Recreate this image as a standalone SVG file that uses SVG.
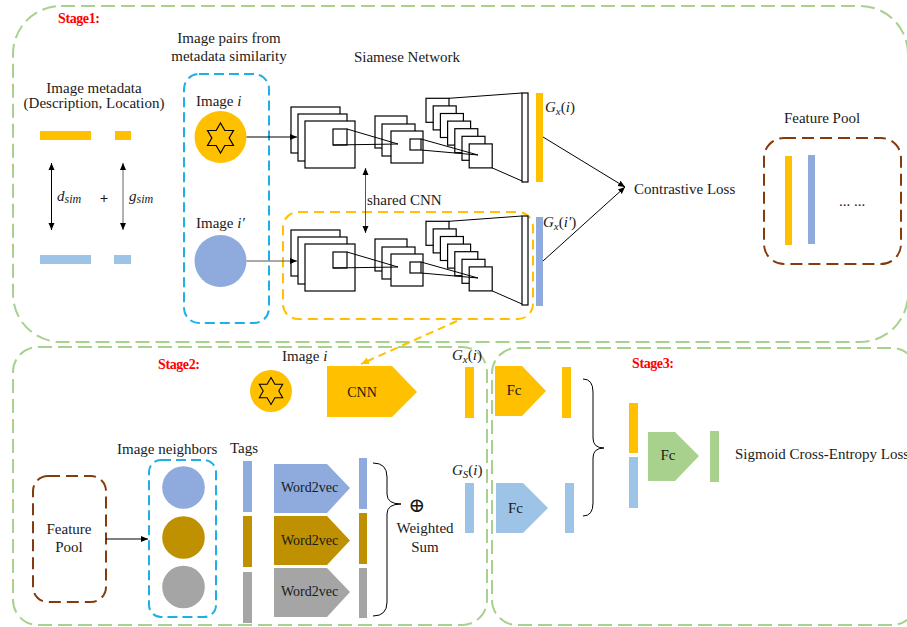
<svg xmlns="http://www.w3.org/2000/svg" xmlns:xlink="http://www.w3.org/1999/xlink" width="907" height="627" viewBox="0 0 907 627">
<style>
.t{font-family:"Liberation Serif",Tinos,"DejaVu Serif","Noto Serif",serif;font-size:15px;fill:#1a1a1a}
.c{text-anchor:middle}
.stage{font-family:"Liberation Serif",Tinos,"DejaVu Serif",serif;font-size:14px;font-weight:bold;fill:#ff0000;letter-spacing:-0.4px}
.m{font-family:"Liberation Serif",Tinos,"DejaVu Serif",serif;font-size:15px;fill:#1a1a1a}
.it{font-style:italic}
.ln{stroke:#000;stroke-width:1;fill:none}
.bx{fill:#fff;stroke:#000;stroke-width:1.2}
.green{fill:none;stroke:#a9d18e;stroke-width:2;stroke-dasharray:14 6}
.blue{fill:none;stroke:#1cb0e6;stroke-width:2;stroke-dasharray:10 5}
.orange{fill:none;stroke:#ffc000;stroke-width:2;stroke-dasharray:10 6}
.brown{fill:none;stroke:#843c0c;stroke-width:2;stroke-dasharray:12 6}
.star{fill:none;stroke:#000;stroke-width:1.2}
.sm{font-size:14px}
</style>
<defs>
<marker id="ah" markerWidth="8" markerHeight="8" refX="7" refY="4" orient="auto-start-reverse" markerUnits="userSpaceOnUse"><path d="M0,1 L7,4 L0,7 z" fill="#000"/></marker>
<marker id="aho" markerWidth="9" markerHeight="9" refX="8" refY="4.5" orient="auto" markerUnits="userSpaceOnUse"><path d="M0,1 L8,4.5 L0,8 z" fill="#ffc000"/></marker>
<path id="star" d="M0,-15 L4.33,-7.5 L12.99,-7.5 L8.66,0 L12.99,7.5 L4.33,7.5 L0,15 L-4.33,7.5 L-12.99,7.5 L-8.66,0 L-12.99,-7.5 L-4.33,-7.5 Z"/>
<g id="cnnShape">
<rect class="bx" x="291" y="107" width="49" height="46"/>
<rect class="bx" x="298" y="114" width="49" height="47"/>
<rect class="bx" x="305" y="121" width="50" height="47"/>
<rect class="bx" x="333" y="129" width="14" height="16"/>
<rect class="bx" x="375" y="116" width="32" height="32"/>
<rect class="bx" x="382" y="124" width="33" height="32"/>
<rect class="bx" x="391" y="131" width="32" height="32"/>
<rect class="bx" x="410" y="139" width="11" height="11"/>
<path class="ln" d="M347,129 L398,144 M333,145 L398,144"/>
<rect class="bx" x="426" y="98.3" width="23" height="24"/>
<rect class="bx" x="433.2" y="105.9" width="23" height="24"/>
<rect class="bx" x="440.4" y="113.5" width="23" height="24"/>
<rect class="bx" x="447.6" y="121.1" width="23" height="24"/>
<rect class="bx" x="454.8" y="128.7" width="23" height="24"/>
<rect class="bx" x="462" y="136.3" width="23" height="24"/>
<rect class="bx" x="469.2" y="143.9" width="23" height="24"/>
<path class="ln" d="M421,139 L478,155 M421,150 L478,155"/>
<path class="ln" d="M449,98.3 L522,93 M492.2,167.9 L522,181"/>
<rect class="bx" x="522" y="93" width="6" height="89"/>
</g>
</defs>

<g id="stage-frames">
<rect id="stage1-frame" class="green" x="13" y="6" width="895" height="336" rx="48"/>
<rect id="stage2-frame" class="green" x="13" y="347" width="474" height="278" rx="25"/>
<rect id="stage3-frame" class="green" x="492" y="348" width="425" height="277" rx="25"/>
<text class="stage" x="58" y="23">Stage1:</text>
<text class="stage" x="158" y="369">Stage2:</text>
<text class="stage" x="632" y="368">Stage3:</text>
</g>

<g id="metadata">
<text class="t c" x="94" y="93">Image metadata</text>
<text class="t c" x="94" y="108">(Description, Location)</text>
<rect x="40" y="131" width="51" height="9" fill="#ffc000"/>
<rect x="115" y="131" width="16" height="9" fill="#ffc000"/>
<rect x="40" y="255" width="51" height="9" fill="#9dc3e6"/>
<rect x="114" y="255" width="17" height="9" fill="#9dc3e6"/>
<text class="m it" x="57" y="201" font-size="17">d<tspan font-size="12" dy="2">sim</tspan></text>
<text class="t c" x="104" y="203" font-weight="bold">+</text>
<text class="m it" x="129" y="201" font-size="17">g<tspan font-size="12" dy="2">sim</tspan></text>
</g>

<g id="image-pairs">
<text class="t c" x="229" y="43">Image pairs from</text>
<text class="t c" x="229" y="61">metadata similarity</text>
<rect class="blue" x="184" y="74" width="85" height="249" rx="15"/>
<text class="t" x="196" y="106">Image <tspan class="it">i</tspan></text>
<circle cx="220.5" cy="137" r="26" fill="#ffc000"/>
<use xlink:href="#star" class="star" transform="translate(220.5,138)"/>
<text class="t" x="196" y="228">Image <tspan class="it">i′</tspan></text>
<circle cx="220.5" cy="261" r="26" fill="#8faadc"/>
</g>

<g id="siamese">
<text class="t c" x="407" y="62">Siamese Network</text>
<g id="cnn-top"><use xlink:href="#cnnShape"/></g>
<rect class="orange" x="283" y="212" width="250" height="107" rx="15"/>
<g id="cnn-bottom"><use xlink:href="#cnnShape" transform="translate(0,123)"/></g>
<text class="t" x="367" y="205">shared CNN</text>
<rect x="536" y="93" width="7" height="89" fill="#ffc000"/>
<rect x="536" y="217" width="7" height="89" fill="#8faadc"/>
<text class="m" x="545" y="112"><tspan class="it">G</tspan><tspan class="it" font-size="11" dy="3">x</tspan><tspan dy="-3">(</tspan><tspan class="it">i</tspan>)</text>
<text class="m" x="543" y="227"><tspan class="it">G</tspan><tspan class="it" font-size="11" dy="3">x</tspan><tspan dy="-3">(</tspan><tspan class="it">i′</tspan>)</text>
</g>

<g id="contrastive-loss">
<text class="t" x="634" y="194">Contrastive Loss</text>
</g>

<g id="feature-pool-1">
<text class="t c" x="822" y="123">Feature Pool</text>
<rect class="brown" x="764" y="138" width="137" height="126" rx="20"/>
<rect x="785" y="156" width="7" height="89" fill="#ffc000"/>
<rect x="808" y="155" width="7" height="89" fill="#8faadc"/>
<text class="t c" x="852" y="206" font-size="11">... ...</text>
</g>

<g id="stage2-image">
<text class="t" x="282" y="361">Image <tspan class="it">i</tspan></text>
<circle cx="271" cy="391" r="21" fill="#ffc000"/>
<use xlink:href="#star" class="star" transform="translate(271,391) scale(0.9)"/>
</g>
<g id="cnn-block">
<polygon points="327,366 392,366 417,392 392,417 327,417" fill="#ffc000"/>
<text class="t c sm" x="362" y="397">CNN</text>
</g>
<g id="gx-bar">
<rect x="465" y="367" width="9" height="51" fill="#ffc000"/>
<text class="m" x="452" y="360"><tspan class="it">G</tspan><tspan class="it" font-size="11" dy="3">x</tspan><tspan dy="-3">(</tspan><tspan class="it">i</tspan>)</text>
</g>
<g id="gs-bar">
<rect x="465" y="483" width="9" height="50" fill="#9dc3e6"/>
<text class="m" x="452" y="475"><tspan class="it">G</tspan><tspan class="it" font-size="11" dy="3">S</tspan><tspan dy="-3">(</tspan><tspan class="it">i</tspan>)</text>
</g>

<g id="feature-pool-2">
<rect class="brown" x="33" y="476" width="73" height="126" rx="15"/>
<text class="t c" x="69" y="534">Feature</text>
<text class="t c" x="69" y="552">Pool</text>
</g>
<g id="image-neighbors">
<text class="t" x="117" y="454">Image neighbors</text>
<rect class="blue" x="149" y="460" width="67" height="157" rx="12"/>
<circle cx="183.5" cy="487.5" r="21.3" fill="#8faadc"/>
<circle cx="183.5" cy="537.5" r="21.3" fill="#bf9000"/>
<circle cx="183.5" cy="587" r="21.3" fill="#a5a5a5"/>
</g>
<g id="tags">
<text class="t" x="230" y="453">Tags</text>
<rect x="243" y="461" width="9" height="51" fill="#8faadc"/>
<rect x="243" y="516" width="9" height="51" fill="#bf9000"/>
<rect x="243" y="572" width="9" height="51" fill="#a5a5a5"/>
</g>
<g id="word2vec">
<polygon points="274,464 327,464 350,488 327,513 274,513" fill="#8faadc"/>
<polygon points="274,516 327,516 350,540.5 327,565 274,565" fill="#bf9000"/>
<polygon points="274,568 327,568 350,592 327,617 274,617" fill="#a5a5a5"/>
<text class="t c sm" x="309.5" y="492">Word2vec</text>
<text class="t c sm" x="309.5" y="545">Word2vec</text>
<text class="t c sm" x="309.5" y="596">Word2vec</text>
<rect x="359" y="458" width="8" height="51" fill="#8faadc"/>
<rect x="359" y="513" width="8" height="51" fill="#bf9000"/>
<rect x="359" y="568" width="8" height="50" fill="#a5a5a5"/>
</g>
<g id="weighted-sum">
<text x="417" y="512" text-anchor="middle" font-family="DejaVu Serif, serif" font-size="20" fill="#1a1a1a">⊕</text>
<text class="t c" x="425" y="533">Weighted</text>
<text class="t c" x="425" y="552">Sum</text>
</g>

<g id="fc-orange">
<polygon points="495,366 522,366 546,391 522,416 495,416" fill="#ffc000"/>
<text class="t c" x="514" y="395" font-size="13">Fc</text>
<rect x="562" y="367" width="9" height="51" fill="#ffc000"/>
</g>
<g id="fc-blue">
<polygon points="496,483 523,483 548,508 523,533 496,533" fill="#9dc3e6"/>
<text class="t c" x="515.5" y="513" font-size="13">Fc</text>
<rect x="565" y="483" width="9" height="50" fill="#9dc3e6"/>
</g>
<g id="concat">
<rect x="629" y="403" width="9" height="50" fill="#ffc000"/>
<rect x="629" y="457" width="9" height="51" fill="#9dc3e6"/>
</g>
<g id="fc-green">
<polygon points="648,432 675,432 699,456 675,481 648,481" fill="#a9d18e"/>
<text class="t c" x="668" y="460" font-size="13">Fc</text>
<rect x="710" y="431" width="9" height="51" fill="#a9d18e"/>
</g>
<g id="sigmoid-loss">
<text class="t" x="735" y="459">Sigmoid Cross-Entropy Loss</text>
</g>

<g id="connectors">
<path class="ln" d="M51.5,163 L51.5,230" marker-start="url(#ah)" marker-end="url(#ah)"/>
<path d="M123,163 L123,230" stroke="#666" stroke-width="1" fill="none" marker-start="url(#ah)" marker-end="url(#ah)"/>
<path class="ln" d="M246.5,137 L297,137" marker-end="url(#ah)"/>
<path d="M246.5,261 L297,261" stroke="#555" stroke-width="1" fill="none" marker-end="url(#ah)"/>
<path d="M365.5,168 L365.5,233" stroke="#555" stroke-width="1" fill="none" marker-start="url(#ah)" marker-end="url(#ah)"/>
<path class="ln" d="M543,137 L625,187" marker-end="url(#ah)"/>
<path class="ln" d="M543,261 L625,187" marker-end="url(#ah)"/>
<path d="M457,321 L361,364" stroke="#ffc000" stroke-width="2" stroke-dasharray="8 5" fill="none" marker-end="url(#aho)"/>
<path class="ln" d="M106,539 L148,539" marker-end="url(#ah)"/>
<path class="ln" d="M373,463 Q387,463 387,477 L387,494 Q387,504 401,504 Q387,504 387,514 L387,602 Q387,616 373,616"/>
<path class="ln" d="M583,379 Q593,379 593,392 L593,438 Q593,448 604,448 Q593,448 593,458 L593,503 Q593,516 583,516"/>
</g>
</svg>
